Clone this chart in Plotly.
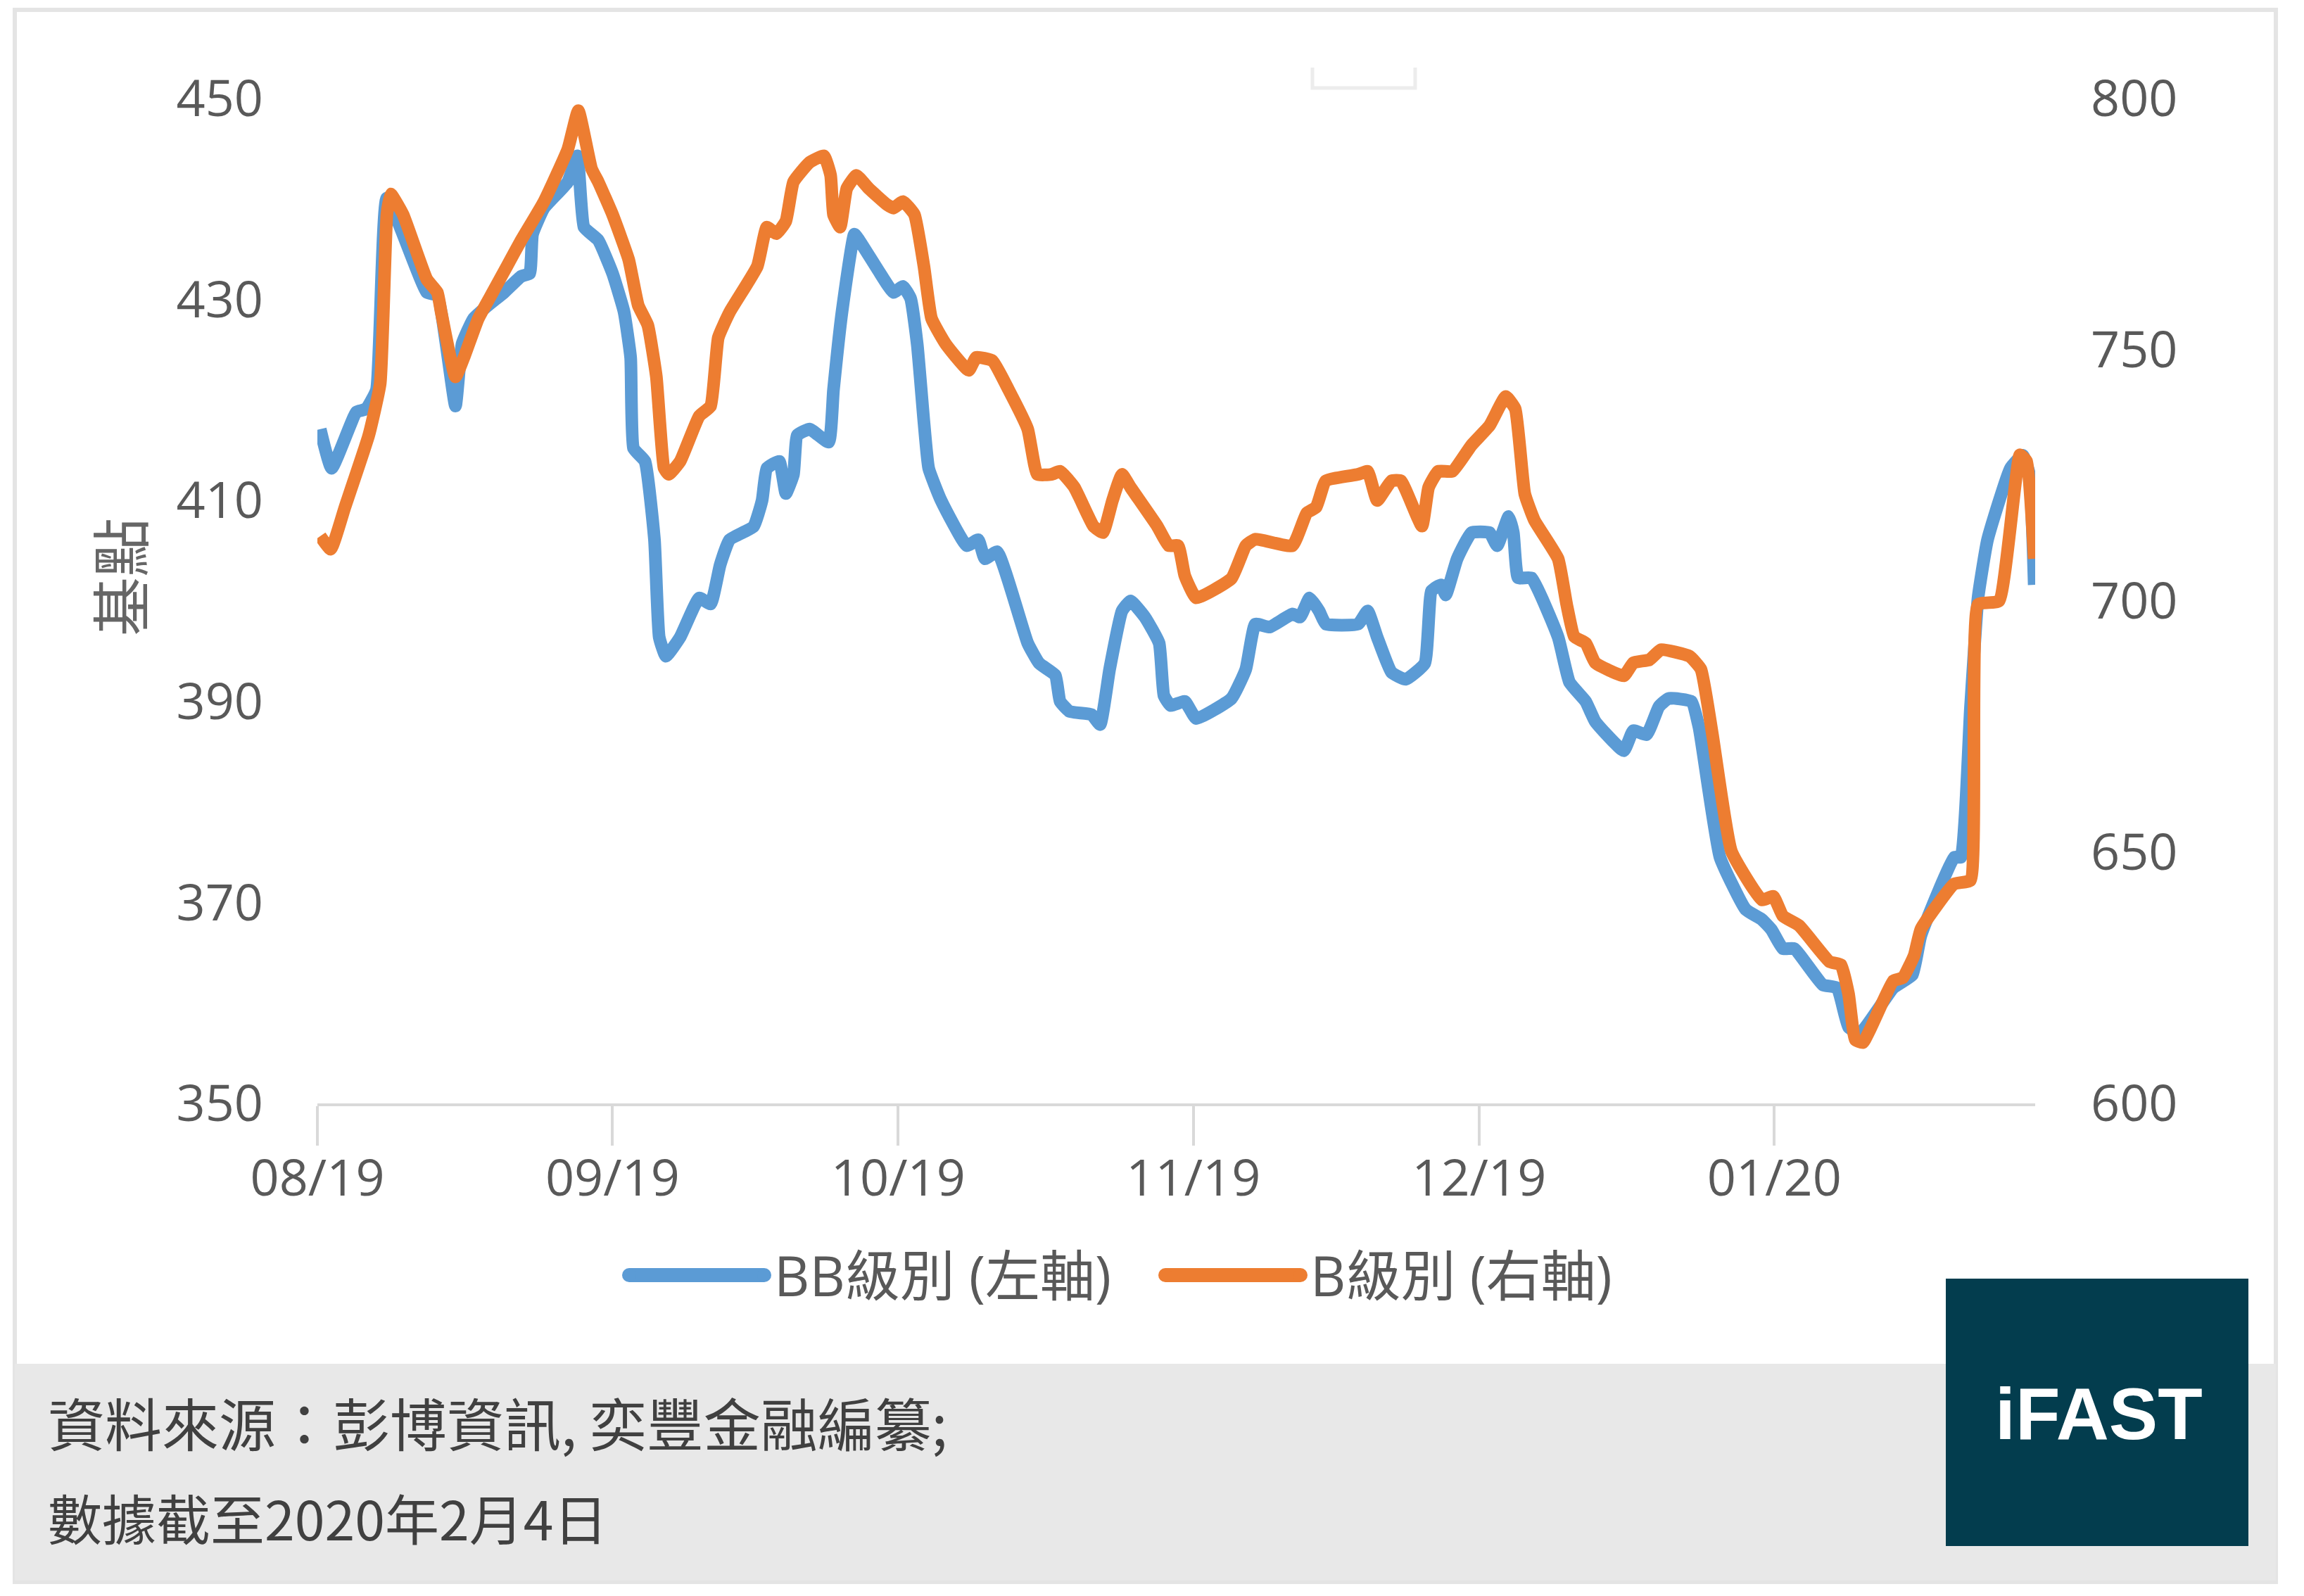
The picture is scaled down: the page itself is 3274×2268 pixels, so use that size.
import plotly.graph_objects as go
import pandas as pd

# ---------------- data ----------------
base_date = "2019-08-05"          # first data point / first month tick
axis_end_days = 180.4             # x-axis extent in days after base_date

# BB grade (left axis), x = days after base_date
bb_days = [0.3, 1.5, 4.1, 5.1, 6.2, 7.3, 11.5, 12.6, 14.5, 15.2, 16.4, 17.9, 19.6, 21.4, 22.3, 22.6,
           23.8, 26.3, 27.3, 28.0, 29.5, 31.0, 32.2, 32.9, 33.2, 34.4, 35.4, 35.9, 36.6, 38.1, 40.1,
           41.3, 42.3, 43.3, 45.8, 46.7, 47.2, 48.5, 49.2, 50.0, 50.4, 51.7, 53.7, 54.2, 55.1, 56.4,
           56.9, 59.1, 60.5, 61.5, 62.3, 63.0, 63.7, 64.2, 65.5, 68.2, 69.4, 70.1, 71.4, 74.6, 75.8,
           77.5, 78.0, 79.0, 81.3, 82.2, 83.2, 84.5, 85.4, 86.9, 88.4, 88.9, 89.6, 91.1, 92.3, 96.0,
           97.5, 98.5, 100.0, 102.4, 103.2, 104.2, 105.2, 105.9, 109.3, 110.3, 111.3, 112.8, 114.3,
           116.3, 117.0, 118.0, 118.5, 119.7, 121.2, 123.1, 123.9, 125.1, 125.6, 126.1, 127.5, 130.3,
           131.5, 133.2, 134.2, 137.2, 138.2, 139.6, 140.9, 141.9, 144.3, 145.1, 147.3, 150.0, 151.7,
           152.7, 153.9, 155.1, 158.1, 159.6, 160.8, 162.0, 165.5, 167.5, 168.4, 171.9, 172.6, 173.6,
           174.4, 175.4, 177.8, 179.1, 179.8, 180.3]
bb_values = [417.1, 413.2, 418.8, 419.1, 421.0, 440.1, 430.7, 430.4, 419.4, 425.6, 428.1, 429.4, 430.7,
             432.3, 432.6, 436.5, 439.1, 441.7, 444.3, 437.2, 435.9, 432.6, 428.8, 424.2, 415.2, 413.9,
             406.1, 396.4, 394.5, 396.4, 400.3, 399.7, 403.6, 406.1, 407.4, 410.0, 413.2, 413.9, 410.7,
             412.6, 416.5, 417.1, 415.8, 421.0, 428.8, 436.5, 435.9, 432.6, 430.7, 431.3, 430.1, 425.5,
             417.8, 413.2, 410.0, 405.5, 406.1, 404.2, 404.9, 395.8, 393.8, 392.6, 390.0, 389.0, 388.7,
             387.7, 393.2, 399.0, 400.0, 398.4, 395.8, 390.6, 389.6, 390.0, 388.3, 390.3, 393.2, 397.7,
             397.4, 398.7, 398.4, 400.3, 399.0, 397.7, 397.7, 399.0, 396.4, 392.9, 392.2, 393.8, 401.0,
             401.6, 400.6, 404.2, 406.8, 406.8, 405.5, 408.4, 406.8, 402.3, 402.3, 396.4, 391.9, 390.0,
             388.0, 385.1, 387.1, 386.7, 389.5, 390.3, 390.0, 387.4, 374.5, 369.3, 368.3, 367.3, 365.4,
             365.4, 361.8, 361.5, 357.6, 357.0, 361.5, 362.8, 366.7, 374.5, 374.5, 389.3, 400.3, 406.1,
             413.2, 414.5, 412.6, 401.6]

# B grade (right axis), x = days after base_date
b_days = [0.3, 1.4, 2.9, 5.4, 6.6, 7.3, 7.7, 9.0, 11.5, 12.6, 13.0, 14.5, 15.4, 16.9, 18.4, 19.9, 21.4,
          23.8, 26.3, 27.4, 28.8, 29.5, 31.0, 32.7, 33.7, 34.7, 35.6, 36.4, 36.9, 38.1, 40.1, 41.3, 42.1,
          43.3, 46.2, 47.2, 48.2, 49.2, 50.0, 51.7, 53.2, 53.9, 54.2, 54.9, 55.6, 56.6, 57.9, 59.8, 60.5,
          61.5, 62.7, 63.7, 64.5, 66.0, 68.4, 69.2, 70.9, 72.6, 74.6, 75.6, 77.1, 78.0, 79.5, 81.5, 82.5,
          83.5, 84.5, 85.4, 88.2, 89.4, 90.4, 91.1, 92.3, 96.0, 97.5, 98.5, 102.4, 103.9, 104.9, 105.9,
          109.3, 110.3, 111.3, 112.8, 113.8, 116.0, 116.7, 117.7, 119.2, 121.2, 123.1, 124.8, 125.8,
          126.8, 127.8, 130.3, 131.2, 132.0, 133.2, 134.2, 137.2, 138.2, 139.9, 141.1, 144.1, 145.3,
          146.5, 148.5, 151.7, 152.9, 153.9, 155.6, 158.8, 160.0, 160.8, 161.5, 162.3, 165.5, 166.5,
          167.7, 168.4, 171.9, 173.6, 174.4, 176.6, 178.8, 179.5, 180.3]
b_values = [712.9, 710.3, 718.7, 733.0, 743.3, 776.9, 781.0, 776.9, 764.0, 761.4, 757.5, 744.6, 748.5,
            756.2, 761.4, 766.6, 771.8, 779.5, 789.9, 797.6, 786.0, 783.4, 776.9, 767.9, 758.8, 754.9,
            744.6, 726.5, 725.2, 727.8, 736.8, 738.8, 752.4, 757.5, 766.6, 774.4, 773.1, 775.6, 783.4,
            787.3, 788.6, 784.7, 776.9, 774.4, 782.1, 784.7, 782.1, 778.9, 778.2, 779.5, 776.9, 766.6,
            756.2, 751.1, 745.9, 748.5, 747.8, 742.0, 734.2, 725.2, 725.2, 725.8, 722.6, 714.9, 713.6,
            720.0, 725.2, 722.6, 714.9, 711.0, 711.0, 705.0, 700.6, 704.5, 711.0, 712.3, 711.0, 717.5,
            718.7, 723.9, 725.2, 725.8, 720.0, 723.9, 723.9, 714.9, 722.6, 725.8, 725.8, 731.0, 734.9,
            740.7, 738.2, 721.3, 716.1, 708.4, 699.3, 692.9, 691.6, 687.7, 685.1, 687.7, 688.3, 690.3,
            689.0, 686.4, 673.5, 650.2, 640.5, 641.2, 637.3, 635.4, 628.2, 627.6, 621.8, 612.7, 612.1,
            624.4, 625.0, 629.5, 634.7, 643.7, 644.4, 699.3, 700.0, 729.1, 727.8, 708.4]

series_names = ["BB級別 (左軸)", "B級別 (右軸)"]
month_ticks = ["2019-08-05", "2019-09-05", "2019-10-05", "2019-11-05", "2019-12-05", "2020-01-05"]
month_labels = ["08/19", "09/19", "10/19", "11/19", "12/19", "01/20"]
left_ticks = [350, 370, 390, 410, 430, 450]
right_ticks = [600, 650, 700, 750, 800]
y_title = "基點"
source_line1 = "資料來源：彭博資訊, 奕豐金融編纂;"
source_line2 = "數據截至2020年2月4日"
logo_text = "iFAST"

# ---------------- styling ----------------
W, H = 3274, 2268
L, R, T, B = 451, 382, 140, 700
PW, PH = W - L - R, H - T - B
BLUE, ORANGE = "#5B9BD5", "#ED7D31"
GRAY_TXT = "#595959"
AXIS_GRAY = "#D9D9D9"
LATIN = "Open Sans, Noto Sans CJK TC, sans-serif"
CJK = "Noto Sans CJK TC, Open Sans, sans-serif"


def px(X):
    return (X - L) / PW


def py(Y):
    return (H - B - Y) / PH


base = pd.Timestamp(base_date)
bb_dates = base + pd.to_timedelta(bb_days, unit="D")
b_dates = base + pd.to_timedelta(b_days, unit="D")
x_end = base + pd.to_timedelta(axis_end_days, unit="D")

fig = go.Figure()
fig.add_trace(go.Scatter(x=bb_dates, y=bb_values, name=series_names[0], mode="lines",
                         line=dict(color=BLUE, width=18, shape="spline", smoothing=0.4),
                         yaxis="y", showlegend=False))
fig.add_trace(go.Scatter(x=b_dates, y=b_values, name=series_names[1], mode="lines",
                         line=dict(color=ORANGE, width=18, shape="spline", smoothing=0.4),
                         yaxis="y2", showlegend=False))

shapes = []
annotations = []

# outer card frame
shapes.append(dict(type="rect", xref="paper", yref="paper", x0=px(21), x1=px(3234), y0=py(14), y1=py(2248),
                   line=dict(color="#E4E4E4", width=6), fillcolor="rgba(0,0,0,0)", layer="below"))
# faint placeholder bracket at top
shapes.append(dict(type="path", xref="paper", yref="paper",
                   path="M %f,%f L %f,%f L %f,%f L %f,%f" % (px(1865), py(96), px(1865), py(125),
                                                               px(2011), py(125), px(2011), py(96)),
                   line=dict(color="#ECECEC", width=5), layer="below"))
# footer band
shapes.append(dict(type="rect", xref="paper", yref="paper", x0=px(21), x1=px(3234), y0=py(1938), y1=py(2246),
                   line=dict(width=0), fillcolor="#E8E8E8", layer="below"))
# logo box
shapes.append(dict(type="rect", xref="paper", yref="paper", x0=px(2765), x1=px(3195), y0=py(1817), y1=py(2197),
                   line=dict(width=0), fillcolor="#033D4E", layer="above"))

# custom legend
legend_y = 1812
legend_items = [(894, 1086, BLUE, 1098, series_names[0]), (1656, 1848, ORANGE, 1860, series_names[1])]
for x0, x1, col, tx, name in legend_items:
    shapes.append(dict(type="line", xref="paper", yref="paper", x0=px(x0), x1=px(x1), y0=py(legend_y),
                       y1=py(legend_y), line=dict(color=col, width=20)))
    for xc in (x0, x1):
        shapes.append(dict(type="circle", xref="paper", yref="paper", xsizemode="pixel", ysizemode="pixel",
                           xanchor=px(xc), yanchor=py(legend_y), x0=-10, x1=10, y0=-10, y1=10,
                           fillcolor=col, line=dict(width=0)))
    annotations.append(dict(xref="paper", yref="paper", x=px(tx), y=py(legend_y), text=name, showarrow=False,
                            xanchor="left", yanchor="middle", font=dict(family=LATIN, size=78, color=GRAY_TXT)))

# y-axis title
annotations.append(dict(xref="paper", yref="paper", x=px(167), y=py(820), text=y_title, showarrow=False,
                        textangle=-90, xanchor="center", yanchor="middle",
                        font=dict(family=CJK, size=84, color="#666666")))
# footer text
annotations.append(dict(xref="paper", yref="paper", x=px(66), y=py(2019), text=source_line1, showarrow=False,
                        xanchor="left", yanchor="middle", font=dict(family=CJK, size=81, color="#404040")))
annotations.append(dict(xref="paper", yref="paper", x=px(66), y=py(2155), text=source_line2, showarrow=False,
                        xanchor="left", yanchor="middle", font=dict(family=CJK, size=77, color="#404040")))
# logo text
annotations.append(dict(xref="paper", yref="paper", x=px(2982), y=py(2009), text="<b>" + logo_text + "</b>",
                        showarrow=False, xanchor="center", yanchor="middle",
                        font=dict(family="Liberation Sans, Arial, sans-serif", size=104, color="white")))

fig.update_layout(
    width=W, height=H, autosize=False,
    margin=dict(l=L, r=R, t=T, b=B, pad=0),
    paper_bgcolor="white", plot_bgcolor="white",
    showlegend=False,
    xaxis=dict(type="date", range=[base, x_end], tickvals=month_ticks, ticktext=month_labels,
               showgrid=False, zeroline=False, showline=True, linecolor=AXIS_GRAY, linewidth=4,
               ticks="outside", ticklen=56, tickwidth=4, tickcolor=AXIS_GRAY,
               tickfont=dict(family=LATIN, size=72, color=GRAY_TXT), ticklabelstandoff=-15),
    yaxis=dict(range=[350, 450], tickvals=left_ticks, showgrid=False, zeroline=False, showline=False,
               ticks="", tickfont=dict(family=LATIN, size=72, color=GRAY_TXT), ticklabelstandoff=76),
    yaxis2=dict(range=[600, 800], tickvals=right_ticks, overlaying="y", side="right", showgrid=False,
                zeroline=False, showline=False, ticks="",
                tickfont=dict(family=LATIN, size=72, color=GRAY_TXT), ticklabelstandoff=78),
    shapes=shapes,
    annotations=annotations,
)

fig.write_html("out.html")
